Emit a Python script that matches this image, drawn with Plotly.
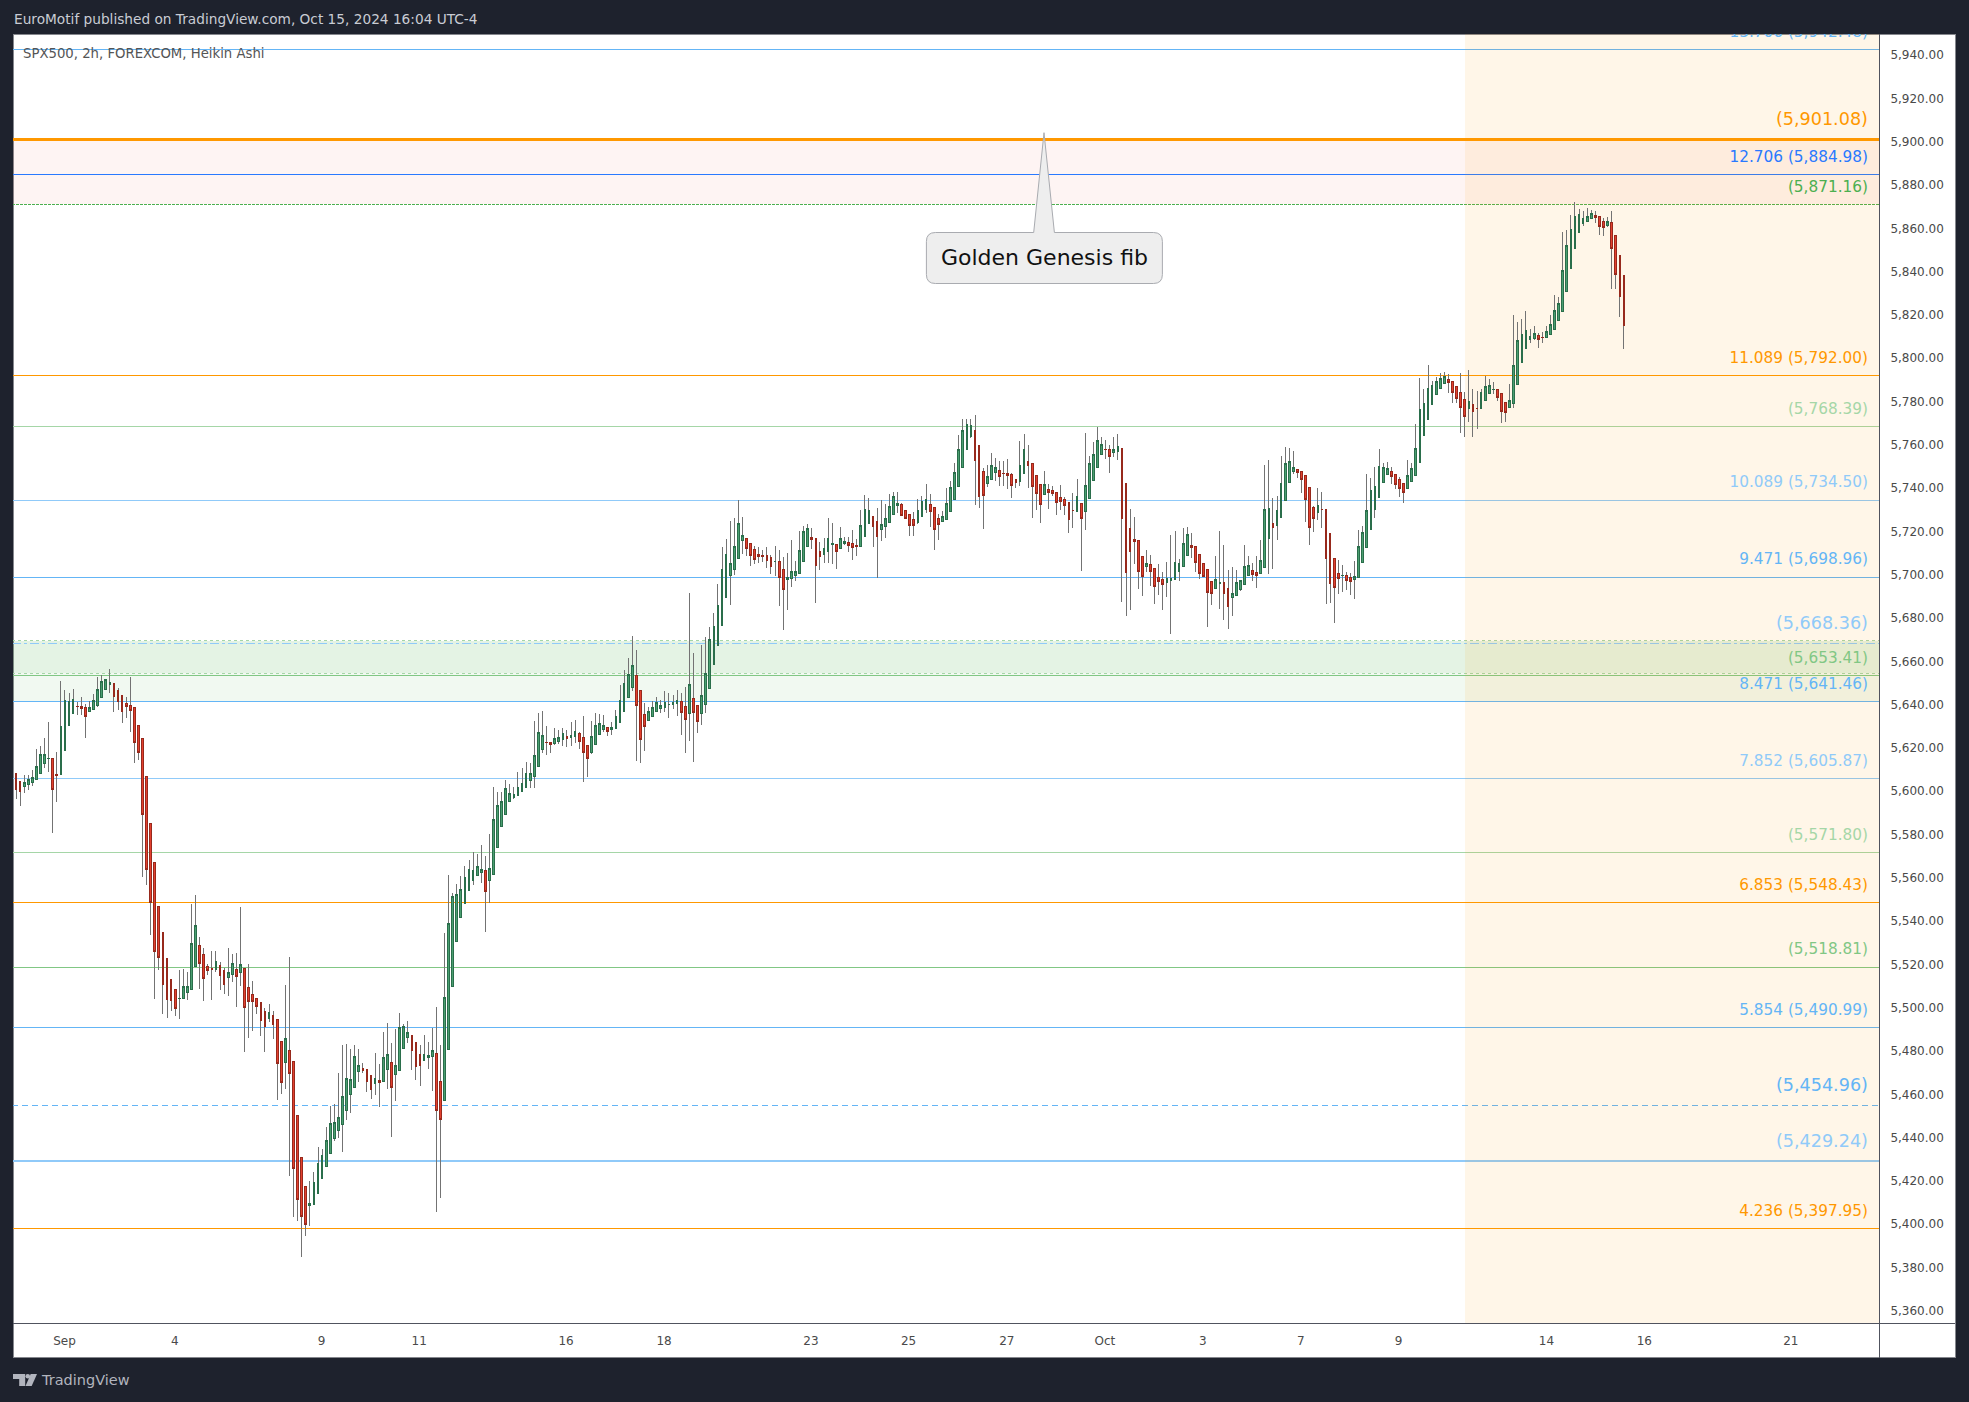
import plotly.graph_objects as go

# ---------- candle data (Heikin Ashi, 2h) ----------
candle_dirs = ("R" "RRGGGGGGGR" "RGGGGRRRGG" "GGGGRRRRRR" "RRRRRRRRRR" "GGGGGRRRRG"
               "RRGGRGRRRR" "RRGRRRGRRR" "RRGGGGGGGG" "GGGGGRRRGR" "GGRGGGGRRR"
               "GGGRRGGGGG" "GGGGGRGGGG" "GGGGGGGGGG" "RRGGGRGGRR" "RGGGGRGGGG"
               "GGRRRGGGGG" "GGGRRGRRGG" "GGGGGGGGGR" "RRRRRRGRRG" "GGGGGRRRGG"
               "GRGGRRRGGG" "RRGGGGGRRR" "RGGGRRRGGG" "GGGGGRRRGG" "GRRRRRGGRR"
               "RRGRRRRRRR" "GRGGGGGRRG" "GRRRRRRGRR" "RRGGGGGGRR" "RRRRGGRRGG"
               "GGGRRGGGRG" "GGGGRRRRRG" "RRRRRGRRGG" "GGGGGGGRRR" "RGGGGGGGGG"
               "GRRRRRGRRG" "GGGRRRGGGG" "GGGRRGGGGG" "GGGGGGGRRR" "GRRRR")

body_top = [5619.0,
 5608.3,5604.5,5604.1,5605.4,5606.4,5611.5,5617.0,5617.0,5615.2,5615.0,
 5607.7,5630.0,5642.0,5641.4,5642.4,5639.2,5639.2,5638.6,5638.8,5642.0,
 5646.9,5650.7,5651.6,5650.3,5649.7,5646.5,5644.3,5640.7,5639.6,5638.6,
 5630.3,5624.3,5606.8,5585.1,5567.2,5546.8,5534.8,5522.7,5513.1,5508.4,
 5504.4,5509.9,5509.9,5529.7,5538.0,5528.7,5524.6,5519.1,5518.2,5521.4,
 5519.5,5517.2,5516.3,5520.4,5517.6,5520.1,5518.2,5509.3,5506.1,5504.2,
 5502.5,5498.4,5497.8,5496.5,5494.6,5484.4,5485.7,5480.3,5475.2,5450.3,
 5430.7,5417.5,5409.6,5419.4,5428.1,5431.8,5438.8,5446.5,5447.1,5449.4,
 5459.0,5467.3,5466.7,5477.4,5473.3,5471.9,5471.5,5468.6,5467.2,5466.3,
 5476.9,5478.3,5474.5,5473.3,5490.8,5491.3,5488.4,5487.0,5484.0,5478.3,
 5478.3,5477.8,5480.2,5478.8,5465.8,5504.7,5538.9,5551.4,5552.3,5554.7,
 5560.1,5563.9,5563.4,5565.3,5563.9,5563.4,5564.3,5587.0,5593.3,5595.2,
 5601.3,5599.0,5598.5,5601.6,5603.5,5608.2,5608.2,5616.4,5627.0,5625.6,
 5622.5,5622.5,5624.4,5624.9,5626.6,5625.4,5625.6,5627.5,5626.6,5624.7,
 5621.1,5625.1,5630.3,5631.3,5630.3,5629.4,5629.4,5634.6,5641.9,5649.6,
 5653.9,5658.1,5653.4,5646.6,5635.5,5636.7,5638.6,5640.9,5639.5,5640.9,
 5640.2,5640.9,5641.9,5641.4,5639.0,5649.2,5642.8,5639.5,5644.2,5654.4,
 5670.2,5676.0,5685.7,5702.4,5709.3,5705.3,5713.1,5723.7,5718.0,5716.8,
 5714.5,5711.6,5709.3,5708.8,5708.8,5707.9,5706.2,5706.0,5702.4,5698.7,
 5701.5,5701.5,5711.2,5720.0,5721.4,5717.3,5716.8,5710.8,5712.2,5716.8,
 5714.5,5714.0,5716.8,5715.4,5714.9,5714.5,5713.6,5722.8,5730.2,5729.7,
 5727.0,5724.6,5723.3,5726.0,5731.6,5736.2,5733.0,5732.5,5729.6,5727.9,
 5725.6,5729.7,5733.9,5734.8,5732.5,5731.1,5726.0,5727.0,5733.0,5740.4,
 5747.3,5757.9,5766.7,5769.5,5769.0,5766.7,5759.8,5747.7,5745.4,5750.5,
 5749.4,5748.2,5746.8,5746.8,5746.4,5744.0,5750.5,5757.9,5752.4,5751.4,
 5745.9,5741.7,5741.7,5739.4,5739.0,5737.9,5735.7,5734.8,5733.4,5729.9,
 5736.2,5733.0,5741.3,5751.4,5755.6,5762.1,5760.2,5757.9,5757.9,5757.9,
 5759.3,5758.4,5742.2,5721.4,5716.3,5715.9,5708.5,5705.2,5704.8,5702.9,
 5698.8,5697.7,5698.5,5698.5,5705.7,5705.2,5714.5,5718.6,5713.6,5713.1,
 5709.4,5705.2,5702.5,5696.9,5697.8,5696.5,5696.5,5693.7,5691.4,5696.5,
 5697.4,5703.9,5704.3,5702.0,5701.1,5706.6,5730.2,5730.7,5723.7,5729.7,
 5742.2,5751.4,5752.4,5749.6,5748.7,5747.7,5745.9,5740.4,5731.1,5732.0,
 5730.2,5730.2,5719.1,5707.5,5700.6,5699.7,5699.7,5698.8,5699.2,5713.1,
 5719.6,5729.7,5739.0,5740.8,5750.1,5749.6,5749.1,5747.7,5746.4,5744.0,
 5742.2,5745.9,5749.1,5758.4,5776.3,5779.1,5786.0,5787.4,5789.3,5790.7,
 5791.6,5790.2,5789.3,5787.0,5784.2,5781.0,5780.0,5778.7,5776.8,5784.2,
 5787.0,5787.4,5785.6,5785.6,5783.7,5779.6,5780.5,5796.7,5808.2,5811.0,
 5812.8,5810.1,5811.5,5810.5,5809.6,5812.4,5815.6,5822.1,5825.3,5840.6,
 5852.1,5859.5,5865.5,5866.4,5864.6,5865.5,5866.9,5866.0,5865.5,5863.2,
 5863.2,5862.7,5856.7,5847.5,5838.3]

body_bottom = [5597.3,
 5600.7,5599.8,5602.1,5603.0,5603.9,5605.4,5608.1,5612.8,5615.0,5600.7,
 5607.1,5607.7,5618.8,5630.3,5635.8,5639.0,5638.1,5634.5,5636.7,5637.7,
 5639.6,5643.1,5646.9,5649.2,5643.7,5641.4,5636.7,5639.0,5637.3,5622.4,
 5617.9,5589.2,5563.8,5548.5,5525.9,5523.1,5510.6,5503.8,5503.3,5499.5,
 5504.2,5504.2,5507.0,5508.4,5518.9,5520.4,5513.5,5517.2,5517.6,5517.6,
 5514.8,5510.6,5513.8,5515.3,5514.4,5516.3,5500.1,5502.9,5502.9,5500.5,
 5494.0,5491.2,5495.0,5492.2,5474.2,5465.4,5474.6,5469.5,5425.6,5411.5,
 5403.6,5399.8,5408.7,5409.0,5414.1,5421.1,5426.6,5432.6,5439.6,5443.3,
 5446.0,5452.6,5459.9,5463.2,5470.5,5471.0,5465.8,5462.3,5465.1,5465.3,
 5465.8,5471.5,5463.2,5469.1,5471.0,5481.1,5486.3,5480.2,5472.9,5473.3,
 5475.5,5476.9,5477.4,5452.4,5448.4,5457.1,5480.7,5509.6,5530.6,5541.7,
 5548.1,5554.2,5558.7,5561.0,5562.7,5553.7,5558.7,5561.5,5574.0,5583.7,
 5589.3,5595.2,5597.1,5598.0,5599.9,5601.8,5604.9,5606.8,5611.5,5619.2,
 5622.3,5621.6,5622.1,5623.0,5624.0,5624.4,5624.9,5625.1,5623.0,5617.8,
 5615.0,5617.8,5621.6,5626.1,5628.4,5627.5,5628.4,5628.9,5631.7,5636.7,
 5643.3,5648.0,5639.5,5624.0,5629.9,5632.7,5634.6,5636.7,5638.3,5638.8,
 5640.0,5640.0,5640.5,5636.5,5633.1,5636.0,5636.2,5632.2,5636.0,5640.0,
 5647.5,5658.6,5667.3,5676.5,5689.5,5699.6,5702.4,5707.4,5715.9,5712.1,
 5708.8,5706.9,5708.3,5708.6,5706.5,5703.9,5706.0,5698.7,5693.3,5697.7,
 5698.2,5699.6,5700.5,5706.0,5712.9,5716.2,5704.2,5708.3,5709.2,5710.6,
 5713.9,5710.6,5712.3,5714.3,5713.4,5712.5,5712.9,5712.9,5717.6,5723.9,
 5722.2,5717.6,5720.8,5722.2,5724.0,5727.7,5731.9,5727.3,5725.9,5722.6,
 5722.6,5724.0,5726.8,5730.0,5729.1,5720.8,5723.1,5724.5,5725.4,5729.1,
 5734.7,5740.7,5749.4,5757.8,5763.8,5752.7,5736.0,5736.5,5742.0,5744.0,
 5747.1,5745.3,5746.7,5745.7,5741.1,5742.5,5743.0,5746.7,5750.4,5740.7,
 5737.4,5732.3,5737.0,5737.9,5737.4,5733.3,5733.7,5731.9,5725.4,5729.6,
 5729.1,5725.9,5729.1,5735.1,5743.6,5749.4,5755.4,5757.8,5754.5,5756.4,
 5756.8,5725.9,5700.9,5710.6,5715.2,5701.4,5699.1,5703.7,5701.4,5694.5,
 5696.8,5695.4,5696.3,5697.2,5697.7,5701.7,5703.7,5708.8,5712.5,5705.5,
 5700.5,5699.1,5691.7,5691.2,5693.8,5695.8,5691.2,5685.2,5689.4,5690.3,
 5693.1,5695.5,5699.5,5700.0,5699.5,5700.5,5703.2,5716.6,5721.7,5722.6,
 5726.3,5734.2,5742.5,5747.6,5747.1,5743.9,5734.7,5721.7,5725.9,5728.6,
 5730.0,5707.4,5695.8,5694.0,5698.2,5699.5,5697.5,5696.8,5697.7,5698.6,
 5705.5,5712.5,5720.8,5730.0,5735.6,5742.5,5746.2,5745.3,5741.6,5739.7,
 5737.9,5739.7,5743.0,5745.7,5751.7,5764.2,5771.6,5778.5,5783.1,5785.9,
 5788.2,5788.7,5784.0,5781.3,5777.1,5773.0,5776.7,5775.3,5776.7,5776.7,
 5780.5,5783.6,5785.4,5781.7,5775.3,5774.8,5777.1,5779.0,5787.7,5797.9,
 5804.4,5808.5,5809.0,5808.5,5809.4,5809.4,5810.8,5813.2,5817.3,5821.5,
 5830.7,5841.3,5850.6,5858.0,5862.1,5863.0,5864.4,5864.9,5860.9,5860.3,
 5861.5,5850.6,5838.6,5828.4,5815.0]

wick_high = [5619.0,
 5608.3,5604.5,5607.7,5607.7,5609.6,5619.4,5620.9,5624.5,5631.8,5615.0,
 5618.1,5650.7,5646.9,5645.4,5647.1,5641.3,5643.5,5640.3,5641.6,5644.8,
 5652.6,5653.5,5651.6,5656.3,5649.7,5647.5,5644.3,5643.5,5652.9,5638.6,
 5630.3,5624.3,5606.8,5585.1,5567.2,5546.8,5534.8,5522.7,5513.1,5508.4,
 5517.4,5517.8,5516.5,5548.1,5552.3,5532.7,5527.6,5520.4,5526.1,5526.1,
 5521.0,5518.2,5527.8,5524.8,5525.3,5546.4,5518.2,5520.1,5512.3,5504.2,
 5502.5,5500.1,5501.8,5498.6,5494.6,5484.4,5510.4,5523.4,5475.2,5450.3,
 5430.7,5417.5,5420.0,5424.1,5435.6,5434.7,5444.8,5454.6,5455.6,5469.9,
 5482.7,5483.3,5480.9,5482.8,5480.9,5474.5,5471.5,5468.6,5479.0,5474.1,
 5488.7,5492.9,5483.7,5490.1,5497.6,5492.4,5494.1,5487.5,5484.0,5482.8,
 5487.5,5484.2,5490.8,5500.2,5482.8,5534.4,5561.3,5553.0,5557.3,5560.8,
 5565.5,5568.1,5571.9,5570.9,5575.2,5570.0,5580.1,5601.8,5599.7,5599.7,
 5605.1,5603.2,5601.8,5608.9,5610.8,5613.4,5612.9,5632.4,5636.2,5636.9,
 5630.1,5622.5,5629.1,5628.2,5629.1,5628.2,5632.0,5632.9,5627.3,5634.8,
 5621.1,5632.4,5636.2,5635.5,5635.0,5629.9,5632.0,5637.4,5648.9,5656.0,
 5661.4,5671.6,5665.2,5646.6,5640.9,5639.0,5641.6,5643.5,5642.3,5646.4,
 5645.4,5644.5,5646.8,5645.4,5648.0,5691.6,5663.8,5639.5,5667.6,5671.1,
 5675.8,5682.2,5695.6,5712.6,5716.4,5724.8,5726.3,5734.7,5726.7,5716.8,
 5714.5,5713.1,5712.8,5711.6,5712.8,5709.3,5713.3,5711.6,5708.3,5710.0,
 5715.9,5706.2,5720.2,5722.5,5723.4,5721.4,5716.8,5715.1,5716.9,5726.2,
 5723.9,5714.0,5722.0,5717.6,5717.4,5720.7,5716.5,5729.9,5736.8,5735.4,
 5727.0,5730.8,5734.5,5732.7,5737.3,5738.2,5738.2,5733.0,5729.6,5727.9,
 5729.1,5735.0,5736.2,5741.9,5737.3,5731.1,5727.9,5729.3,5739.9,5743.3,
 5751.4,5764.5,5771.9,5771.9,5771.9,5773.8,5759.8,5749.1,5750.7,5756.2,
 5753.7,5752.7,5752.7,5753.3,5746.8,5744.0,5761.8,5765.0,5759.9,5751.4,
 5745.9,5741.7,5747.9,5741.7,5741.0,5737.9,5741.4,5736.0,5733.4,5737.7,
 5744.2,5733.0,5765.5,5754.8,5761.4,5768.2,5763.6,5762.1,5759.8,5763.6,
 5765.0,5758.4,5742.2,5730.3,5726.6,5715.9,5708.5,5711.4,5709.1,5702.9,
 5704.9,5701.5,5705.7,5718.3,5720.2,5707.5,5721.6,5722.0,5719.3,5713.1,
 5709.4,5705.2,5702.5,5696.9,5708.6,5720.2,5713.7,5702.2,5703.5,5702.2,
 5697.4,5713.7,5708.6,5705.2,5708.6,5716.0,5750.7,5753.0,5735.4,5736.2,
 5754.8,5759.0,5758.5,5757.1,5748.7,5747.7,5745.9,5740.4,5731.6,5739.9,
 5738.0,5730.2,5719.1,5707.5,5706.8,5704.5,5701.1,5700.6,5706.3,5720.9,
 5722.5,5746.5,5744.5,5749.7,5758.1,5751.6,5752.1,5749.7,5746.4,5745.0,
 5742.2,5753.0,5751.4,5769.6,5790.8,5785.6,5796.8,5789.4,5791.4,5793.1,
 5793.6,5792.5,5789.3,5787.0,5793.1,5784.2,5794.8,5786.0,5784.8,5786.0,
 5791.7,5790.4,5789.0,5785.6,5783.7,5779.6,5788.1,5819.9,5816.7,5818.1,
 5821.8,5813.5,5814.8,5811.8,5811.9,5814.8,5820.2,5829.2,5828.2,5858.3,
 5859.2,5866.1,5872.0,5868.9,5867.8,5869.4,5868.4,5867.8,5865.5,5864.7,
 5865.1,5867.8,5856.7,5847.5,5838.3]

wick_low = [5597.3,
 5596.4,5593.2,5599.4,5600.5,5602.4,5605.4,5608.1,5610.7,5608.7,5580.9,
 5595.1,5607.7,5618.8,5630.3,5635.8,5635.4,5635.4,5624.7,5636.4,5637.7,
 5638.8,5643.1,5646.9,5645.6,5636.5,5637.5,5631.5,5633.7,5627.5,5613.0,
 5614.5,5560.6,5556.8,5533.8,5504.0,5517.4,5497.0,5495.2,5498.6,5496.1,
 5494.8,5504.2,5503.7,5508.4,5518.9,5508.6,5503.3,5515.2,5503.7,5516.5,
 5508.2,5506.3,5505.4,5511.9,5500.3,5510.1,5479.5,5486.1,5489.3,5497.0,
 5486.9,5479.5,5493.3,5485.7,5457.5,5460.1,5462.4,5422.4,5403.4,5401.3,
 5385.1,5394.5,5399.2,5409.0,5414.1,5421.1,5426.6,5432.6,5438.6,5439.9,
 5433.3,5448.2,5451.2,5463.2,5465.8,5470.0,5460.9,5457.8,5459.7,5454.3,
 5465.8,5462.3,5440.1,5456.8,5471.0,5481.1,5483.5,5471.2,5466.5,5463.7,
 5475.5,5471.7,5461.6,5405.9,5412.1,5457.1,5480.7,5509.6,5530.6,5541.7,
 5548.1,5554.2,5556.8,5561.0,5557.5,5535.1,5548.3,5561.5,5574.0,5583.7,
 5589.3,5595.2,5596.6,5598.0,5599.9,5601.8,5601.3,5601.3,5611.5,5617.8,
 5616.7,5617.8,5621.4,5621.6,5620.7,5620.4,5620.7,5622.1,5619.5,5604.2,
 5606.5,5617.1,5621.6,5626.1,5627.3,5625.6,5626.1,5628.9,5631.7,5636.7,
 5643.3,5646.1,5614.1,5612.9,5618.8,5632.7,5634.6,5636.7,5636.2,5636.7,
 5633.9,5638.1,5634.6,5625.8,5617.6,5623.3,5613.4,5626.8,5630.6,5636.2,
 5647.5,5658.6,5667.3,5676.5,5689.5,5685.9,5699.9,5707.4,5709.5,5708.8,
 5704.1,5705.0,5705.3,5706.0,5703.2,5700.3,5699.4,5685.7,5674.6,5683.6,
 5694.4,5697.3,5700.5,5706.0,5712.9,5711.9,5686.9,5702.2,5705.4,5705.4,
 5704.9,5702.6,5711.9,5713.7,5710.5,5706.8,5708.6,5712.9,5717.6,5723.4,
 5712.8,5698.5,5715.7,5716.9,5724.0,5727.7,5728.3,5727.3,5725.9,5717.9,
 5717.9,5723.6,5726.8,5728.6,5722.0,5711.4,5716.0,5724.5,5725.4,5729.1,
 5734.7,5740.7,5749.4,5757.8,5763.3,5732.2,5731.0,5721.1,5740.5,5744.0,
 5743.4,5741.0,5741.0,5739.7,5735.4,5740.0,5741.0,5746.7,5740.0,5726.2,
 5729.9,5723.9,5737.0,5730.3,5736.3,5727.6,5729.9,5727.6,5719.3,5721.6,
 5729.1,5701.7,5720.6,5735.1,5743.6,5749.4,5755.4,5753.6,5747.0,5754.5,
 5753.0,5687.4,5680.9,5683.7,5704.9,5693.4,5690.1,5701.5,5694.8,5686.5,
 5690.6,5683.7,5689.7,5672.7,5697.7,5697.1,5703.7,5708.8,5707.9,5701.2,
 5698.0,5699.1,5675.8,5686.1,5693.4,5684.3,5679.1,5674.9,5680.9,5690.3,
 5692.5,5695.5,5699.5,5697.1,5693.8,5700.5,5703.2,5700.3,5702.6,5716.0,
 5726.3,5734.2,5742.5,5746.5,5744.7,5737.7,5724.3,5713.7,5719.7,5725.3,
 5721.6,5686.5,5686.9,5677.7,5691.1,5692.0,5692.9,5690.6,5688.8,5698.6,
 5705.5,5712.5,5720.8,5726.2,5735.6,5742.5,5746.2,5741.9,5739.6,5735.9,
 5733.1,5739.7,5743.0,5745.7,5751.7,5764.2,5771.6,5778.5,5783.1,5785.9,
 5788.2,5783.9,5779.3,5779.3,5765.4,5763.6,5770.5,5763.6,5767.3,5776.7,
 5780.5,5783.6,5783.6,5780.4,5770.0,5770.5,5777.1,5777.0,5787.7,5797.9,
 5804.4,5807.1,5808.5,5804.8,5807.1,5809.4,5810.8,5813.2,5817.3,5821.5,
 5830.7,5841.3,5850.6,5858.0,5861.2,5863.0,5864.4,5862.6,5857.0,5856.6,
 5860.7,5832.1,5832.1,5819.2,5804.2]

# ---------- fib levels ----------
level_values = [5942.48, 5901.08, 5884.98, 5871.16, 5792.00, 5768.39, 5734.50, 5698.96,
                5668.36, 5653.41, 5641.46, 5605.87, 5571.80, 5548.43, 5518.81, 5490.99,
                5454.96, 5429.24, 5397.95]
level_labels = ["13.706 (5,942.48)", "(5,901.08)", "12.706 (5,884.98)", "(5,871.16)",
                "11.089 (5,792.00)", "(5,768.39)", "10.089 (5,734.50)", "9.471 (5,698.96)",
                "(5,668.36)", "(5,653.41)", "8.471 (5,641.46)", "7.852 (5,605.87)",
                "(5,571.80)", "6.853 (5,548.43)", "(5,518.81)", "5.854 (5,490.99)",
                "(5,454.96)", "(5,429.24)", "4.236 (5,397.95)"]
level_colors = ["#64b5f6", "#ff9800", "#2979ff", "#4caf50", "#ff9800", "#a5d6a7", "#90caf9",
                "#64b5f6", "#90caf9", "#81c784", "#64b5f6", "#90caf9", "#a5d6a7", "#ff9800",
                "#81c784", "#64b5f6", "#64b5f6", "#90caf9", "#ff9800"]
level_sizes = [15.3, 17.6, 15.3, 15.3, 15.3, 15.3, 15.3, 15.3, 17.6, 15.3, 15.3, 15.3, 15.3,
               15.3, 15.3, 15.3, 17.6, 17.6, 15.3]
level_widths = [1, 3, 1.5, 1, 1, 1, 1, 1, 1, 1, 1, 1, 1, 1, 1, 1, 1, 2, 1]
level_dashes = ["solid", "solid", "solid", "3px,1px", "solid", "solid", "solid", "solid",
                "dashdot", "solid", "solid", "solid", "solid", "solid", "solid", "solid",
                "6px,4px", "solid", "solid"]

red_band = (5901.08, 5871.16)
green_band_wide = (5669.6, 5641.46)
green_band_narrow = (5669.6, 5654.5)
orange_band_start = 356.0

y_ticks = list(range(5360, 5941, 20))
x_tick_pos = [12.9, 39.9, 75.9, 99.8, 135.8, 159.8, 195.8, 219.7, 243.8, 267.8, 291.8,
              315.8, 339.8, 376.0, 400.0, 435.9]
x_tick_text = ["Sep", "4", "9", "11", "16", "18", "23", "25", "27", "Oct", "3", "7", "9",
               "14", "16", "21"]

# ---------- page geometry ----------
W, H = 1969, 1402
PL, PR, PT, PB = 13.3, 1879.3, 34.0, 1323.0
FONT = "DejaVu Sans"


def fx(px):
    return (px - PL) / (PR - PL)


def fy(py):
    return 1 - (py - PT) / (PB - PT)


def poly(points):
    return "M " + " L ".join(f"{fx(a)},{fy(b)}" for a, b in points) + " Z"


xs = list(range(len(body_top)))
opens = [b if d == "G" else t for d, t, b in zip(candle_dirs, body_top, body_bottom)]
closes = [t if d == "G" else b for d, t, b in zip(candle_dirs, body_top, body_bottom)]

fig = go.Figure()

# wicks (gray) first, bodies on top
fig.add_trace(go.Candlestick(
    x=xs, open=body_bottom, close=body_top, high=wick_high, low=wick_low,
    whiskerwidth=0, hoverinfo="skip",
    increasing=dict(line=dict(color="#737373", width=1), fillcolor="rgba(0,0,0,0)"),
    decreasing=dict(line=dict(color="#737373", width=1), fillcolor="rgba(0,0,0,0)"),
))
fig.add_trace(go.Candlestick(
    x=xs, open=opens, close=closes, high=body_top, low=body_bottom,
    whiskerwidth=0, hoverinfo="skip",
    increasing=dict(line=dict(color="#2a6e4b", width=1), fillcolor="#4a9e70"),
    decreasing=dict(line=dict(color="#97291c", width=1), fillcolor="#e2402f"),
))

# level labels, clipped to the plot
offsets = {15.3: 7.6, 17.6: 8.5}
fig.add_trace(go.Scatter(
    x=[454.8] * len(level_values),
    y=[v + offsets[s] for v, s in zip(level_values, level_sizes)],
    mode="text", text=level_labels, textposition="middle left",
    textfont=dict(family=FONT, size=level_sizes, color=level_colors),
    cliponaxis=True, hoverinfo="skip",
))

shapes = []
# outer white panels
shapes.append(dict(type="rect", xref="paper", yref="paper", layer="below",
                   x0=fx(PL), x1=fx(1955.5), y0=fy(1357.5), y1=fy(PT),
                   fillcolor="white", line=dict(color="#85878d", width=1)))
# bands
for lo_hi, col in ((red_band, "rgba(244,67,54,0.06)"),
                   (green_band_wide, "rgba(76,175,80,0.08)"),
                   (green_band_narrow, "rgba(76,175,80,0.08)")):
    shapes.append(dict(type="rect", xref="x", yref="y", layer="below",
                       x0=0, x1=470, y0=lo_hi[0], y1=lo_hi[1], fillcolor=col, line_width=0))
for edge in green_band_narrow:
    shapes.append(dict(type="line", xref="x", yref="y", layer="below", x0=0, x1=470,
                       y0=edge, y1=edge, line=dict(color="#a5d6a7", width=1, dash="dot")))
# levels
for v, c, w, d in zip(level_values, level_colors, level_widths, level_dashes):
    shapes.append(dict(type="line", xref="x", yref="y", layer="below", x0=0, x1=470,
                       y0=v, y1=v, line=dict(color=c, width=w, dash=d)))
# orange vertical band
shapes.append(dict(type="rect", xref="x", yref="y", layer="below", x0=orange_band_start, x1=470,
                   y0=5300, y1=6000, fillcolor="rgba(255,152,0,0.09)", line_width=0))
# axis separators
shapes.append(dict(type="line", xref="paper", yref="paper", x0=fx(PL), x1=fx(1955.5),
                   y0=fy(PB), y1=fy(PB), line=dict(color="#50535e", width=1)))
shapes.append(dict(type="line", xref="paper", yref="paper", x0=fx(PR), x1=fx(PR),
                   y0=fy(PT), y1=fy(1357.5), line=dict(color="#50535e", width=1)))
# callout balloon
bx0, bx1, by0, by1, r = 926.7, 1162.7, 232.5, 283.5, 9
q = lambda a, b: f"{fx(a)},{fy(b)}"
balloon = (f"M {q(bx0 + r, by0)} L {q(1034, by0)} L {q(1044.3, 132.7)} L {q(1054.7, by0)} "
           f"L {q(bx1 - r, by0)} Q {q(bx1, by0)} {q(bx1, by0 + r)} "
           f"L {q(bx1, by1 - r)} Q {q(bx1, by1)} {q(bx1 - r, by1)} "
           f"L {q(bx0 + r, by1)} Q {q(bx0, by1)} {q(bx0, by1 - r)} "
           f"L {q(bx0, by0 + r)} Q {q(bx0, by0)} {q(bx0 + r, by0)} Z")
shapes.append(dict(type="path", xref="paper", yref="paper", path=balloon,
                   fillcolor="#eeeeee", line=dict(color="#a9abb0", width=1)))
# TradingView logo
logo = "#b2b5be"
shapes.append(dict(type="path", xref="paper", yref="paper", line_width=0, fillcolor=logo,
                   path=poly([(13.3, 1374), (25.5, 1374), (25.5, 1386), (19.5, 1386),
                              (19.5, 1379), (13.3, 1379)])))
shapes.append(dict(type="path", xref="paper", yref="paper", line_width=0, fillcolor=logo,
                   path=poly([(31, 1374), (37.3, 1374), (32, 1386), (25.8, 1386)])))
shapes.append(dict(type="circle", xref="paper", yref="paper", line_width=0, fillcolor=logo,
                   x0=fx(25.8), x1=fx(30.4), y0=fy(1374), y1=fy(1378.6)))


def label(text, px, py, size, color, anchor="left"):
    return dict(text=text, xref="paper", yref="paper", x=fx(px), y=fy(py), showarrow=False,
                xanchor=anchor, yanchor="middle", align=anchor, borderpad=0,
                font=dict(family=FONT, size=size, color=color))


annotations = [
    label("EuroMotif published on TradingView.com, Oct 15, 2024 16:04 UTC-4", 13.3, 19.5, 13.7, "#c9ccd4"),
    label("SPX500, 2h, FOREXCOM, Heikin Ashi", 22, 53.5, 13.25, "#555555"),
    label("TradingView", 40, 1380, 14.5, "#b2b5be"),
    label("Golden Genesis fib", 1044.7, 257, 22, "#111111", "center"),
]

fig.update_layout(
    width=W, height=H, showlegend=False,
    margin=dict(l=PL, r=W - PR, t=PT, b=H - PB, pad=0),
    paper_bgcolor="#1e222d", plot_bgcolor="white", boxgap=0.4,
    shapes=shapes, annotations=annotations,
    xaxis=dict(range=[0.265, 457.5], tickmode="array", tickvals=x_tick_pos, ticktext=x_tick_text,
               showgrid=False, zeroline=False, showline=False, rangeslider=dict(visible=False),
               ticks="outside", ticklen=7, tickcolor="rgba(0,0,0,0)",
               tickfont=dict(family=FONT, size=12, color="#4a4a4a")),
    yaxis=dict(range=[5354.4, 5949.76], side="right", tickmode="array", tickvals=y_ticks,
               tickformat=",.2f", showgrid=False, zeroline=False, showline=False,
               ticks="outside", ticklen=8, tickcolor="rgba(0,0,0,0)",
               tickfont=dict(family=FONT, size=12, color="#4a4a4a")),
)

crisp_js = """
document.body.style.margin='0';
document.body.style.background='#1e222d';
function crisp(){
  document.querySelectorAll('.shapelayer path').forEach(function(p){
    if(['rgb(238, 238, 238)','rgb(178, 181, 190)'].indexOf(p.style.fill)<0){
      p.style.shapeRendering='crispEdges';
    }
  });
  document.querySelectorAll('.boxlayer path').forEach(function(p){
    p.style.shapeRendering='crispEdges';
  });
}
crisp();
setTimeout(crisp,0);
"""
fig.write_html("out.html", config={"displayModeBar": False}, post_script=crisp_js)
